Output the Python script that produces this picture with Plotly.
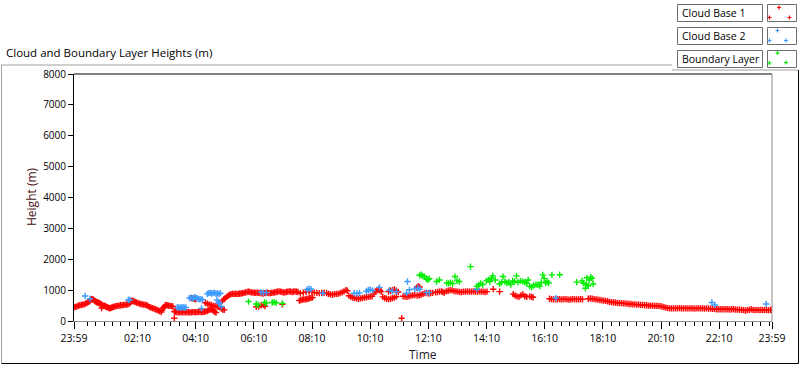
import plotly.graph_objects as go

# ---------------- data ----------------
# time = minutes after midnight (the window runs from 23:59 of the previous day = -1 to 23:59 = 1439)
cloud_base_1 = [
    (-1, 450), (2, 455), (5, 470), (8, 500), (11, 510), (14, 520), (17, 530), (20, 540), (23, 560), (26, 590),
    (29, 620), (31, 640), (33, 680), (35, 710), (37, 700), (39, 690), (41, 660), (43, 640), (45, 620), (47, 600),
    (49, 600), (51, 580), (53, 560), (55, 540), (56, 420), (58, 520), (60, 480), (62, 500), (64, 470), (66, 460),
    (68, 440), (70, 430), (72, 420), (74, 410), (76, 430), (78, 440), (80, 460), (83, 470), (86, 480), (89, 490),
    (92, 500), (95, 510), (98, 510), (101, 520), (104, 520), (107, 530), (110, 540), (113, 560), (115, 600),
    (117, 640), (119, 660), (121, 650), (123, 630), (125, 620), (128, 600), (131, 580), (134, 560), (137, 550),
    (140, 540), (143, 530), (146, 520), (149, 510), (152, 480), (155, 450), (158, 430), (161, 420), (164, 400),
    (167, 380), (170, 360), (173, 340), (176, 320), (179, 290), (181, 350), (183, 420), (185, 460), (187, 500),
    (189, 520), (191, 510), (194, 500), (197, 490), (200, 480), (203, 470),
    (206, 310), (208, 300), (211, 290), (214, 280), (217, 290), (220, 280), (223, 290), (226, 280), (229, 290),
    (232, 280), (235, 290), (238, 280), (241, 280), (244, 290), (247, 290), (250, 280), (253, 290), (256, 300),
    (259, 290), (262, 300), (265, 290), (268, 300), (271, 310), (274, 330), (277, 350), (280, 370), (283, 380),
    (286, 340), (289, 300), (292, 270), (206, 90),
    (241, 740), (244, 730), (247, 720), (250, 700),
    (270, 590), (274, 560), (278, 540), (282, 520), (286, 500), (290, 480), (294, 470), (297, 460), (300, 440),
    (303, 400), (306, 370), (309, 360),
    (305, 650), (308, 700), (311, 740), (314, 780), (317, 820), (320, 850), (323, 870), (326, 880), (329, 880),
    (332, 880), (335, 880), (338, 880), (341, 890), (344, 890), (347, 900), (350, 910), (353, 930), (356, 940),
    (359, 950), (362, 940), (365, 930), (368, 920), (371, 920), (374, 910), (377, 920), (380, 910), (383, 900),
    (386, 900), (389, 890), (392, 900), (395, 910), (398, 920), (401, 900),
    (375, 460), (380, 470), (385, 510), (390, 520), (393, 480), (429, 540),
    (404, 900), (407, 910), (410, 920), (413, 930), (416, 940), (419, 950), (422, 960), (425, 950), (428, 940),
    (431, 930), (434, 930), (437, 940), (440, 950), (443, 960), (446, 950), (449, 940), (452, 950), (455, 960),
    (458, 950), (461, 940),
    (464, 660), (467, 680), (470, 690), (473, 700), (476, 700), (479, 710), (482, 720), (485, 740), (488, 750),
    (491, 760), (466, 900), (472, 920), (478, 940), (484, 950), (490, 940),
    (495, 920), (500, 910), (505, 900), (510, 910), (515, 920), (520, 900), (524, 880), (528, 860), (532, 850),
    (536, 870), (540, 880), (544, 880), (548, 900), (552, 930), (556, 960), (560, 1000), (563, 980),
    (566, 820), (570, 780), (574, 760), (578, 740), (582, 730), (586, 720), (590, 730), (594, 740), (598, 760),
    (602, 770), (606, 780), (610, 790), (614, 800), (618, 880), (621, 960), (624, 1000), (627, 1020), (630, 990),
    (633, 950), (636, 780), (640, 740), (644, 720), (648, 710), (652, 720), (656, 740), (660, 760), (664, 790),
    (648, 950), (652, 980), (656, 1000), (660, 1020), (664, 980), (668, 940), (675, 90),
    (678, 800), (682, 790), (686, 780), (690, 800), (694, 820), (698, 830), (702, 840), (706, 1080), (709, 1120),
    (712, 1100), (707, 820), (711, 830), (715, 850), (719, 880), (723, 900), (727, 900), (731, 890), (735, 900),
    (739, 910),
    (745, 930), (749, 940), (753, 950), (757, 960), (760, 940), (763, 920), (767, 960), (771, 980), (775, 1000),
    (779, 990), (783, 970), (787, 960), (791, 950), (795, 940), (799, 940), (803, 950), (807, 950), (811, 960),
    (815, 950), (819, 950), (823, 960), (827, 950), (831, 950), (835, 960), (839, 950), (843, 950), (847, 940),
    (851, 950), (864, 1030), (877, 950),
    (905, 870), (909, 820), (913, 800), (917, 780), (921, 830), (925, 860), (929, 800), (933, 780),
    (939, 800), (943, 780), (946, 770),
    (980, 720), (984, 710), (988, 700), (992, 700), (996, 700), (1000, 710), (1004, 700), (1008, 700),
    (1012, 710), (1016, 700), (1020, 690), (1024, 700), (1028, 710), (1032, 700), (1036, 700), (1040, 700),
    (1044, 710), (1048, 700),
    (1060, 720), (1064, 730), (1068, 720), (1072, 710), (1076, 700), (1080, 690), (1084, 680), (1088, 670),
    (1092, 660), (1096, 650), (1100, 640), (1104, 620), (1108, 610), (1112, 600), (1116, 600), (1120, 590),
    (1124, 580), (1128, 580), (1132, 570), (1136, 570), (1140, 560), (1144, 550), (1148, 550), (1152, 540),
    (1156, 540), (1160, 530), (1164, 530), (1168, 520), (1172, 520), (1176, 510), (1180, 510), (1184, 500),
    (1188, 500), (1192, 500), (1196, 490), (1200, 490), (1204, 490), (1208, 480), (1212, 470), (1216, 450),
    (1220, 430), (1224, 420), (1228, 410), (1232, 410), (1236, 410), (1240, 410), (1244, 410), (1248, 420),
    (1252, 410), (1256, 410), (1260, 410), (1264, 410), (1268, 410), (1272, 410), (1276, 410), (1280, 400),
    (1284, 410), (1288, 410), (1292, 410), (1296, 410), (1300, 400), (1304, 410), (1308, 400), (1312, 400),
    (1316, 390), (1320, 390), (1324, 380), (1328, 380), (1332, 380), (1336, 380), (1340, 380), (1344, 380),
    (1348, 380), (1352, 370), (1356, 380), (1360, 380), (1364, 370), (1368, 370), (1372, 370), (1376, 360),
    (1380, 350), (1384, 340), (1388, 350), (1392, 360), (1396, 380), (1400, 360), (1404, 350), (1408, 360),
    (1412, 350), (1416, 360), (1420, 350), (1424, 360), (1428, 350), (1432, 350), (1436, 360), (1439, 350),
]

cloud_base_2 = [
    (22, 810), (32, 720), (111, 680), (114, 690),
    (212, 440), (215, 430), (218, 440), (221, 430), (224, 450), (227, 430), (230, 440),
    (237, 740), (240, 760), (243, 730), (246, 750), (249, 770), (252, 740), (255, 720), (258, 700), (261, 710),
    (264, 690), (262, 410),
    (274, 880), (277, 900), (280, 910), (283, 890), (286, 900), (289, 920), (292, 880), (295, 900), (298, 870),
    (301, 900), (294, 680), (297, 600), (299, 580), (303, 470),
    (385, 930), (390, 920), (396, 920),
    (480, 1020), (484, 1050), (488, 1030), (512, 900), (577, 900), (583, 890), (588, 910), (602, 960),
    (606, 1000), (610, 1020), (615, 990), (629, 1090), (650, 1000), (656, 960), (664, 950), (685, 900),
    (687, 1280), (691, 1010), (702, 1040), (708, 1060), (712, 1030), (726, 920), (732, 920), (830, 1030),
    (993, 740), (1315, 600), (1321, 520), (1427, 550),
]

boundary_layer = [
    (359, 630), (375, 550), (379, 520), (392, 600), (396, 580), (408, 600), (412, 610), (416, 590), (429, 570),
    (712, 1480), (715, 1500), (718, 1460), (722, 1440), (726, 1360), (729, 1340), (732, 1370), (747, 1280),
    (753, 1330), (768, 1230), (772, 1220), (776, 1240), (780, 1210), (785, 1440), (789, 1300), (794, 1280),
    (817, 1760), (830, 1120), (834, 1170), (838, 1220), (842, 1180), (850, 1300), (854, 1340), (857, 1280),
    (860, 1390), (863, 1460), (868, 1330), (877, 1200), (881, 1250), (884, 1440), (888, 1280), (892, 1230),
    (896, 1260), (900, 1180), (904, 1300), (908, 1280), (912, 1460), (915, 1250), (920, 1300), (925, 1280),
    (929, 1250), (933, 1220), (936, 1330),
    (939, 1120), (943, 1100), (947, 1150), (952, 1180), (956, 1170), (960, 1130), (963, 1250), (966, 1495),
    (969, 1380), (972, 1230), (975, 1280), (978, 1230), (985, 1495), (1001, 1500), (1036, 1260), (1047, 1300),
    (1050, 1230), (1054, 1060), (1056, 1180), (1057, 1400), (1060, 1140), (1062, 1330), (1065, 1420),
    (1068, 1380), (1070, 1200),
]

x_tick_vals = [-1, 130, 250, 370, 490, 610, 730, 850, 970, 1090, 1210, 1330, 1439]
x_tick_text = ["23:59", "02:10", "04:10", "06:10", "08:10", "10:10", "12:10", "14:10",
               "16:10", "18:10", "20:10", "22:10", "23:59"]
y_tick_vals = [0, 1000, 2000, 3000, 4000, 5000, 6000, 7000, 8000]

series_names = ["Cloud Base 1", "Cloud Base 2", "Boundary Layer"]
series_colors = ["#ff0000", "#3d9bff", "#00ee00"]
series_data = [cloud_base_1, cloud_base_2, boundary_layer]

# ---------------- figure ----------------
W, H = 800, 365
L, R, T, B = 74, 772, 74, 321          # plot area in pixels
FONT = "Segoe UI, Open Sans, Noto Sans, sans-serif"


def fx(px):
    return (px - L) / (R - L)


def fy(py):
    return (B - py) / (B - T)


fig = go.Figure()
for name, color, data in zip(series_names, series_colors, series_data):
    fig.add_trace(go.Scatter(
        x=[p[0] for p in data], y=[p[1] for p in data], mode="markers", name=name,
        marker=dict(symbol="cross-thin", size=4.5, color=color, line=dict(color=color, width=1.4)),
        showlegend=False, cliponaxis=True,
    ))

minor_vals = [10 + k * 120 / 7 for k in range(84) if k % 7 != 0]

fig.update_layout(
    width=W, height=H,
    margin=dict(l=L, r=W - R, t=T, b=H - B, pad=0),
    paper_bgcolor="white", plot_bgcolor="white",
    font=dict(family=FONT, size=11, color="#000000"),
    xaxis=dict(
        range=[-1, 1439], tickmode="array", tickvals=x_tick_vals, ticktext=x_tick_text,
        ticks="outside", ticklen=7, tickwidth=1, tickcolor="#000000",
        showline=True, linecolor="#8c8c8c", linewidth=1, showgrid=False, zeroline=False,
        tickfont=dict(size=10.5),
        minor=dict(tickmode="array", tickvals=minor_vals, ticks="outside", ticklen=4,
                   tickwidth=1, tickcolor="#000000", showgrid=False),
    ),
    yaxis=dict(
        range=[0, 8000], tickmode="array", tickvals=y_tick_vals,
        ticks="outside", ticklen=5, tickwidth=1, tickcolor="#000000",
        showline=True, linecolor="#000000", linewidth=1, showgrid=False, zeroline=False,
        tickfont=dict(size=10),
    ),
)

shapes = []
# top (black) and right (grey) borders of the plot frame
shapes.append(dict(type="line", xref="paper", yref="paper", x0=0, x1=1, y0=1, y1=1,
                   line=dict(color="#000000", width=1)))
shapes.append(dict(type="line", xref="paper", yref="paper", x0=1, x1=1, y0=0, y1=1,
                   line=dict(color="#8c8c8c", width=1)))
# outer panel frame
shapes.append(dict(type="line", xref="paper", yref="paper", x0=fx(1.5), x1=fx(1.5), y0=fy(65), y1=fy(363),
                   line=dict(color="#a0a0a0", width=1)))
shapes.append(dict(type="line", xref="paper", yref="paper", x0=fx(1.5), x1=fx(672), y0=fy(65), y1=fy(65),
                   line=dict(color="#a0a0a0", width=1)))
shapes.append(dict(type="line", xref="paper", yref="paper", x0=fx(672), x1=fx(798), y0=fy(70), y1=fy(70),
                   line=dict(color="#a0a0a0", width=1)))
shapes.append(dict(type="line", xref="paper", yref="paper", x0=fx(1.5), x1=fx(798.5), y0=fy(363.5), y1=fy(363.5),
                   line=dict(color="#000000", width=1)))
shapes.append(dict(type="line", xref="paper", yref="paper", x0=fx(798.5), x1=fx(798.5), y0=fy(70), y1=fy(363.5),
                   line=dict(color="#000000", width=1)))

annotations = [
    dict(text="Cloud and Boundary Layer Heights (m)", xref="paper", yref="paper", x=fx(4), y=fy(53),
         xanchor="left", yanchor="middle", showarrow=False, font=dict(size=11.5, color="#000000")),
    dict(text="Height (m)", xref="paper", yref="paper", x=fx(31), y=fy(197), textangle=-90,
         xanchor="center", yanchor="middle", showarrow=False, font=dict(size=12, color="#4a0f0f")),
    dict(text="Time", xref="paper", yref="paper", x=fx(423), y=fy(354),
         xanchor="center", yanchor="middle", showarrow=False, font=dict(size=12, color="#1a1a2a")),
]

# LabVIEW-style legend (top right)
rows = [(4.5, 21.5), (27.5, 44.5), (50.5, 67.5)]
cross_pos = [
    [(779, 7.5), (769.5, 17.5), (789.5, 17.5)],
    [(777.5, 30.5), (769.5, 40.5), (786, 40.5)],
    [(777.5, 53), (769.5, 63), (786, 62.5)],
]
for (y0, y1), name, color, crosses in zip(rows, series_names, series_colors, cross_pos):
    shapes.append(dict(type="rect", xref="paper", yref="paper", x0=fx(677.5), x1=fx(762.5), y0=fy(y0), y1=fy(y1),
                       line=dict(color="#6e6e6e", width=1), fillcolor="white"))
    shapes.append(dict(type="rect", xref="paper", yref="paper", x0=fx(767.5), x1=fx(796.5), y0=fy(y0), y1=fy(y1),
                       line=dict(color="#6e6e6e", width=1), fillcolor="white"))
    for cx, cy in crosses:
        path = (f"M{fx(cx - 2)},{fy(cy)} L{fx(cx + 2)},{fy(cy)} "
                f"M{fx(cx)},{fy(cy - 2)} L{fx(cx)},{fy(cy + 2)}")
        shapes.append(dict(type="path", xref="paper", yref="paper", path=path,
                           line=dict(color=color, width=1.2)))
    annotations.append(dict(text=name, xref="paper", yref="paper", x=fx(679.5), y=fy((y0 + y1) / 2),
                            xanchor="left", yanchor="middle", showarrow=False,
                            font=dict(size=10.5, color="#000000")))

fig.update_layout(shapes=shapes, annotations=annotations)
fig.write_html("out.html", config={"displayModeBar": False},
               post_script="document.body.style.margin='0';")
